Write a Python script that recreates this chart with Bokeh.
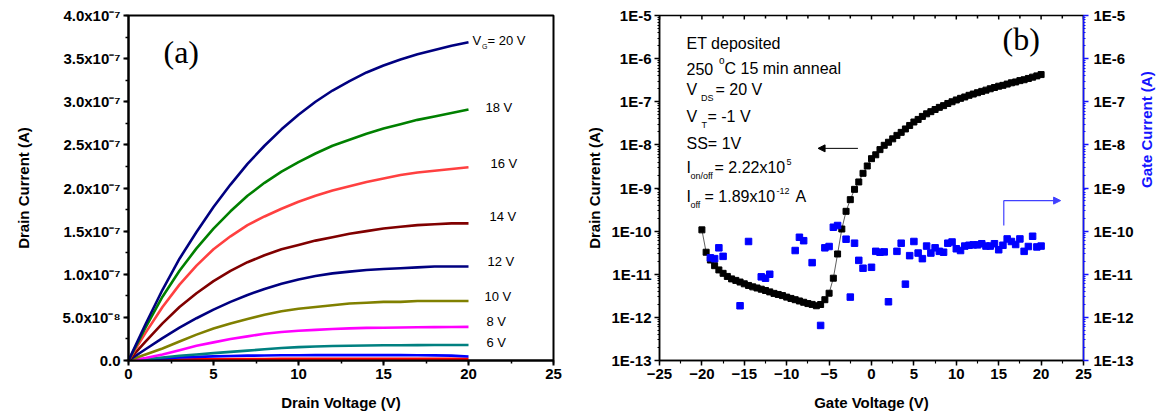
import math
from bokeh.plotting import figure
from bokeh.layouts import row
from bokeh.models import (Range1d, LogAxis, LogScale, FixedTicker,
                          SingleIntervalTicker, CustomJSTickFormatter, Label,
                          Arrow, NormalHead)
from bokeh.embed import file_html
from bokeh.resources import INLINE

# ---------------- (a) output characteristics, current in units of 1e-7 A
drain_voltage = [0, 1, 2, 3, 4, 5, 6, 7, 8, 9, 10, 11, 12, 13, 14, 15, 16, 17, 18, 19, 20]
id_vg20 = [0, 0.42, 0.82, 1.18, 1.49, 1.78, 2.04, 2.28, 2.49, 2.68, 2.85, 3.00, 3.13, 3.24, 3.34, 3.42, 3.49, 3.55, 3.60, 3.65, 3.69]
id_vg18 = [0, 0.38, 0.74, 1.04, 1.30, 1.53, 1.73, 1.91, 2.06, 2.19, 2.30, 2.40, 2.49, 2.56, 2.63, 2.69, 2.74, 2.79, 2.83, 2.87, 2.91]
id_vg16 = [0, 0.32, 0.62, 0.88, 1.10, 1.29, 1.44, 1.57, 1.67, 1.76, 1.84, 1.91, 1.97, 2.02, 2.07, 2.11, 2.15, 2.18, 2.20, 2.22, 2.24]
id_vg14 = [0, 0.22, 0.43, 0.62, 0.78, 0.92, 1.04, 1.14, 1.22, 1.29, 1.34, 1.39, 1.43, 1.47, 1.50, 1.53, 1.55, 1.57, 1.58, 1.59, 1.59]
id_vg12 = [0, 0.13, 0.26, 0.38, 0.49, 0.59, 0.68, 0.76, 0.83, 0.89, 0.94, 0.98, 1.01, 1.03, 1.05, 1.06, 1.07, 1.08, 1.09, 1.09, 1.09]
id_vg10 = [0, 0.07, 0.14, 0.22, 0.30, 0.37, 0.43, 0.48, 0.53, 0.57, 0.60, 0.62, 0.64, 0.66, 0.67, 0.68, 0.68, 0.69, 0.69, 0.69, 0.69]
id_vg8 = [0, 0.03, 0.07, 0.12, 0.17, 0.21, 0.25, 0.28, 0.31, 0.33, 0.345, 0.355, 0.365, 0.372, 0.378, 0.38, 0.383, 0.385, 0.387, 0.388, 0.39]
id_vg6 = [0, 0.015, 0.035, 0.055, 0.07, 0.085, 0.10, 0.115, 0.13, 0.145, 0.155, 0.163, 0.168, 0.171, 0.174, 0.176, 0.177, 0.178, 0.179, 0.18, 0.18]
id_vg4 = [0, 0.012, 0.024, 0.034, 0.042, 0.048, 0.053, 0.056, 0.058, 0.060, 0.061, 0.062, 0.062, 0.062, 0.062, 0.062, 0.062, 0.061, 0.060, 0.056, 0.046]
id_vg2 = [0, 0.004, 0.008, 0.011, 0.013, 0.015, 0.016, 0.017, 0.018, 0.019, 0.019, 0.020, 0.020, 0.020, 0.020, 0.020, 0.020, 0.020, 0.020, 0.020, 0.020]
curve_series = [id_vg2, id_vg4, id_vg6, id_vg8, id_vg10, id_vg12, id_vg14, id_vg16, id_vg18, id_vg20]
curve_colors = ["#ff0000", "#0000ff", "#008080", "#ff00ff", "#808000", "#000080", "#800000", "#ff4040", "#008000", "#000080"]
curve_labels = ["18 V", "16 V", "14 V", "12 V", "10 V", "8 V", "6 V"]

# ---------------- (b) transfer characteristic
gate_sweep = [-20 + 0.5 * i for i in range(81)]
drain_current = [1.07e-10, 3.24e-11, 2.14e-11, 1.58e-11, 1.26e-11, 1.05e-11, 8.9e-12, 7.8e-12, 7.2e-12, 6.6e-12,
                 6.0e-12, 5.5e-12, 5.1e-12, 4.8e-12, 4.5e-12, 4.2e-12, 3.9e-12, 3.6e-12, 3.4e-12, 3.2e-12,
                 2.95e-12, 2.75e-12, 2.57e-12, 2.40e-12, 2.24e-12, 2.09e-12, 2.0e-12, 1.86e-12, 1.99e-12, 2.57e-12,
                 3.63e-12, 8.1e-12, 2.95e-11, 1.12e-10, 2.88e-10, 5.37e-10, 9.3e-10, 1.38e-9, 2.19e-9, 3.24e-9,
                 4.79e-9, 5.89e-9, 7.76e-9, 9.77e-9, 1.15e-8, 1.38e-8, 1.66e-8, 1.95e-8, 2.34e-8, 2.82e-8,
                 3.39e-8, 3.89e-8, 4.57e-8, 5.25e-8, 5.89e-8, 6.61e-8, 7.41e-8, 8.13e-8, 9.12e-8, 1.0e-7,
                 1.10e-7, 1.20e-7, 1.29e-7, 1.41e-7, 1.51e-7, 1.62e-7, 1.74e-7, 1.86e-7, 2.0e-7, 2.14e-7,
                 2.29e-7, 2.40e-7, 2.57e-7, 2.75e-7, 2.88e-7, 3.09e-7, 3.24e-7, 3.47e-7, 3.72e-7, 3.98e-7, 4.27e-7]
gate_v = [-19, -18.5, -18, -17.5, -15.5, -14.5, -13, -12.5, -12, -9, -8.5, -8, -7, -6, -5.5, -5, -4.5, -4,
          -3, -2.5, -2, -1.5, -1, 0, 0.5, 1, 1.5, 2, 3, 3.5, 4, 4.5, 5, 5.5, 6, 6.5, 7, 7.5, 8,
          8.5, 9, 9.5, 10, 10.5, 11, 11.5, 12, 12.5, 13, 13.5, 14, 14.5, 15, 15.5, 16, 16.5, 17, 17.5,
          18, 18.5, 19, 19.5, 20]
gate_current = [2.4e-11, 2.3e-11, 4.1e-11, 2.6e-11, 1.86e-12, 5.75e-11, 8.7e-12, 8.1e-12, 1.0e-11, 3.55e-11,
                7.2e-11, 6.0e-11, 1.86e-11, 6.5e-13, 4.1e-11, 4.4e-11, 1.23e-10, 1.35e-10, 6.5e-11, 2.95e-12,
                5.25e-11, 2.1e-11, 1.38e-11, 1.45e-11, 3.4e-11, 3.24e-11, 3.3e-11, 2.3e-12, 3.4e-11, 5.25e-11,
                5.9e-12, 2.7e-11, 5.75e-11, 3.1e-11, 2.3e-11, 4.5e-11, 3.1e-11, 4.1e-11, 3.4e-11,
                3.24e-11, 5.25e-11, 5.6e-11, 3.9e-11, 3.55e-11, 4.5e-11, 4.7e-11, 4.8e-11, 4.8e-11, 5.1e-11,
                4.5e-11, 4.5e-11, 5.1e-11, 3.7e-11, 4.7e-11, 6.6e-11, 5.75e-11, 4.9e-11, 6.6e-11, 3.4e-11,
                4.4e-11, 7.6e-11, 4.3e-11, 4.5e-11]
decades = [1e-13, 1e-12, 1e-11, 1e-10, 1e-9, 1e-8, 1e-7, 1e-6, 1e-5]

FONT = "Liberation Sans"
BLUE = "#1414ff"


def style_axis(ax, lw):
    ax.axis_line_width = lw
    ax.major_tick_line_width = lw
    ax.minor_tick_line_width = lw * 0.75
    ax.major_tick_in = 0
    ax.major_tick_out = 5
    ax.minor_tick_in = 0
    ax.minor_tick_out = 3
    ax.major_label_text_font = FONT
    ax.major_label_text_font_style = "bold"
    ax.major_label_text_font_size = "15px"
    ax.major_label_text_color = "black"
    ax.axis_label_text_font = FONT
    ax.axis_label_text_font_style = "bold"
    ax.axis_label_text_font_size = "15px"
    ax.axis_label_text_color = "black"
    ax.major_label_standoff = 3


def add_text(p, text, px, py, size, left, bottom, font=FONT, color="black"):
    # (px, py): left end of the text baseline in page pixels
    p.add_layout(Label(x=px - left, y=bottom - (py - 0.36 * size), x_units="screen", y_units="screen",
                       text=text, text_font=font, text_font_size=f"{size}px", text_color=color,
                       text_baseline="middle", text_align="left"))


# ================= panel (a)
p1 = figure(width=583, height=420, x_range=Range1d(0, 25), y_range=Range1d(0, 4.0),
            output_backend="svg", toolbar_location=None,
            min_border_left=128, min_border_right=30, min_border_top=15, min_border_bottom=60)
p1.grid.visible = False
p1.outline_line_color = "black"
p1.outline_line_width = 2
p1.outline_line_alpha = 1
for s, c in zip(curve_series, curve_colors):
    p1.line(drain_voltage, s, line_color=c, line_width=2.6, line_join="round")

p1.xaxis.ticker = SingleIntervalTicker(interval=5, num_minor_ticks=2)
p1.yaxis.ticker = SingleIntervalTicker(interval=0.5, num_minor_ticks=2)
for ax in [p1.xaxis[0], p1.yaxis[0]]:
    style_axis(ax, 2)
p1.xaxis.axis_label = "Drain Voltage (V)"
p1.yaxis.axis_label = "Drain Current (A)"
p1.xaxis.axis_label_standoff = 12
p1.yaxis.axis_label_standoff = 28
p1.yaxis.formatter = CustomJSTickFormatter(code="""
if (Math.abs(tick) < 1e-9) return "0.0";
const v = tick * 1e-7;
const e = Math.floor(Math.log10(v) + 1e-9);
const m = v / Math.pow(10, e);
const sup = {"-": "\\u207b", "0": "\\u2070", "1": "\\u00b9", "2": "\\u00b2", "3": "\\u00b3", "4": "\\u2074",
             "5": "\\u2075", "6": "\\u2076", "7": "\\u2077", "8": "\\u2078", "9": "\\u2079"};
let s = "";
for (const c of String(e)) s += sup[c];
return m.toFixed(1) + "x10" + s;
""")

L1, B1 = 128, 360
add_text(p1, "(a)", 163, 63, 32, L1, B1, font="Liberation Serif")
add_text(p1, "V", 472, 45, 13, L1, B1)
add_text(p1, "G", 481.5, 49, 7, L1, B1)
add_text(p1, "= 20 V", 487, 45, 13, L1, B1)
label_pos = [(485, 112), (490, 168), (489, 221), (487, 266), (484, 301), (486, 326), (486, 347)]
for t, (lx, ly) in zip(curve_labels, label_pos):
    add_text(p1, t, lx, ly, 13, L1, B1)

# ================= panel (b)
p2 = figure(width=583, height=420, x_range=Range1d(-25, 25), y_range=Range1d(1e-13, 1e-5),
            y_axis_type="log", output_backend="svg", toolbar_location=None,
            min_border_left=74, min_border_right=83, min_border_top=15, min_border_bottom=60)
p2.grid.visible = False
p2.outline_line_color = "black"
p2.outline_line_width = 1.5
p2.outline_line_alpha = 1
p2.extra_y_ranges = {"gate": Range1d(1e-13, 1e-5)}
p2.extra_y_scales = {"gate": LogScale()}

minor_log = [m * d for d in decades[:-1] for m in range(2, 10)]
log_fmt = CustomJSTickFormatter(code='return "1E" + Math.round(Math.log10(tick));')

p2.xaxis.ticker = SingleIntervalTicker(interval=5, num_minor_ticks=2)
p2.yaxis.ticker = FixedTicker(ticks=decades, minor_ticks=minor_log)
p2.yaxis.formatter = log_fmt
for ax in [p2.xaxis[0], p2.yaxis[0]]:
    style_axis(ax, 1.5)
p2.yaxis.minor_tick_out = 2
p2.xaxis.axis_label = "Gate Voltage (V)"
p2.yaxis.axis_label = "Drain Current (A)"
p2.xaxis.axis_label_standoff = 12
p2.yaxis.axis_label_standoff = 5

right_ax = LogAxis(y_range_name="gate", ticker=FixedTicker(ticks=decades, minor_ticks=minor_log),
                   formatter=log_fmt)
style_axis(right_ax, 1.5)
right_ax.minor_tick_out = 2
right_ax.axis_line_color = BLUE
right_ax.major_tick_line_color = BLUE
right_ax.minor_tick_line_color = BLUE
right_ax.axis_label = "Gate Current (A)"
right_ax.axis_label_text_color = BLUE
right_ax.axis_label_orientation = math.pi / 2
right_ax.axis_label_standoff = 10
right_ax.major_label_standoff = 5
p2.add_layout(right_ax, "right")

# inward ticks along the top edge of panel (b)
top_ticks = [-25 + 2.5 * i for i in range(21)]
top_len = [1e-5 / 10 ** ((4 if i % 2 == 0 else 3) / 43.1) for i in range(21)]
p2.segment(x0=top_ticks, y0=[1e-5] * 21, x1=top_ticks, y1=top_len, line_color="black", line_width=1.5)

p2.line(gate_sweep, drain_current, line_color="#333333", line_width=0.8)
p2.scatter(gate_sweep, drain_current, marker="square", size=6, color="black")
p2.scatter(gate_v, gate_current, marker="square", size=6.5, color="#0000ff", y_range_name="gate")

p2.add_layout(Arrow(end=NormalHead(size=7, fill_color="black", line_color="black", line_width=1),
                    x_start=-1.6, y_start=8.3e-9, x_end=-6.3, y_end=8.3e-9,
                    line_color="black", line_width=1))
ARROW_BLUE = "#4040ff"
p2.add_layout(Arrow(end=None, x_start=15.6, y_start=1.35e-10, x_end=15.6, y_end=5.1e-10,
                    line_color=ARROW_BLUE, line_width=1.2))
p2.add_layout(Arrow(end=NormalHead(size=7, fill_color=ARROW_BLUE, line_color=ARROW_BLUE, line_width=1),
                    x_start=15.6, y_start=5.1e-10, x_end=22.3, y_end=5.1e-10,
                    line_color=ARROW_BLUE, line_width=1.2))

B2 = 360
add_text(p2, "(b)", 1000, 50, 32, 657, B2, font="Liberation Serif")
ann = [
    ("ET deposited", 684, 49, 16), ("250", 684, 74, 16), ("o", 716.5, 64, 10), ("C 15 min anneal", 722, 74, 16),
    ("V", 684, 95, 16), ("DS", 698.5, 101, 9), ("= 20 V", 713, 95, 16),
    ("V", 684, 122, 16), ("T", 699, 128, 9), ("= -1 V", 705, 122, 16),
    ("SS= 1V", 684, 149, 16),
    ("I", 684, 173, 16), ("on/off", 688, 179, 9), ("= 2.22x10", 712, 173, 16), ("5", 784, 165, 9),
    ("I", 684, 202, 16), ("off", 688, 208, 9), ("= 1.89x10", 702, 202, 16), ("-12", 774, 194, 9), ("A", 793, 202, 16),
]
for t, ax_, ay_, sz in ann:
    add_text(p2, t, ax_, ay_, sz, 657, B2)

layout = row(p1, p2)
open("out.html", "w").write(file_html(layout, INLINE))
